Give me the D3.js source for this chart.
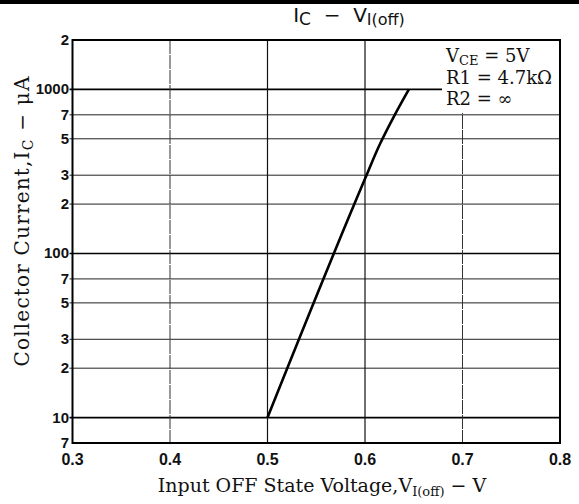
<!DOCTYPE html>
<html><head><meta charset="utf-8">
<script src="https://cdn.jsdelivr.net/npm/d3@7/dist/d3.min.js"></script>
<style>body{margin:0;background:#fff}svg{display:block}</style>
</head><body>
<script>
// Data
const voltage = [0.50, 0.60, 0.615, 0.63, 0.645];
const current = [10, 285, 460, 690, 1000];
const xTicks = [0.3, 0.4, 0.5, 0.6, 0.7, 0.8];
const xTickLabels = ["0.3", "0.4", "0.5", "0.6", "0.7", "0.8"];
const yTicks = [7, 10, 20, 30, 50, 70, 100, 200, 300, 500, 700, 1000, 2000];
const yTickLabels = ["7", "10", "2", "3", "5", "7", "100", "2", "3", "5", "7", "1000", "2"];
const conditions = ["V_CE = 5V", "R1 = 4.7kΩ", "R2 = ∞"];

const W = 579, H = 504;
const svg = d3.select("body").append("svg").attr("width", W).attr("height", H);
const x = d3.scaleLinear().domain([0.3, 0.8]).range([72.5, 560]);
const y = d3.scaleLog().domain([7, 2000]).range([443, 40]);
const serif = "'DejaVu Serif', 'Liberation Serif', serif";
const sans = "'Liberation Sans Narrow', 'Liberation Sans', Arial, sans-serif";

// top page bar
svg.append("rect").attr("x", 0).attr("y", 0).attr("width", W).attr("height", 4).attr("fill", "#000");

// Title
const title = svg.append("text").attr("x", 349).attr("y", 22).attr("text-anchor", "middle")
  .attr("font-family", "'DejaVu Sans', sans-serif").attr("font-size", 20).attr("fill", "#111")
  .attr("xml:space", "preserve");
title.append("tspan").text("I");
title.append("tspan").attr("font-size", 17).attr("dy", 3).text("C");
title.append("tspan").attr("dy", -3).text("  \u2212  V");
title.append("tspan").attr("font-size", 16).attr("dy", 3).text("I(off)");

const g = svg.append("g");
// horizontal grid
const major = new Set([10, 100, 1000]);
g.selectAll("line.hg").data(yTicks.filter(d => d > 7 && d < 2000)).join("line")
  .attr("x1", x(0.3) - 3).attr("x2", x(0.8))
  .attr("y1", d => y(d)).attr("y2", d => y(d))
  .attr("stroke", d => major.has(d) ? "#000" : "#222")
  .attr("stroke-width", d => major.has(d) ? 1.6 : 1);
// vertical grid
g.selectAll("line.vg").data(xTicks.slice(1, -1)).join("line")
  .attr("x1", d => x(d)).attr("x2", d => x(d))
  .attr("y1", y(2000)).attr("y2", y(7))
  .attr("stroke", d => (d === 0.5 || d === 0.6) ? "#111" : "#333")
  .attr("stroke-width", d => (d === 0.5 || d === 0.6) ? 1.2 : 1)
  .attr("stroke-dasharray", d => (d === 0.5 || d === 0.6) ? null : "14,1");

// conditions box background
svg.append("rect").attr("x", 442).attr("y", y(2000) + 1).attr("width", x(0.8) - 443).attr("height", 72).attr("fill", "#fff");

// border
svg.append("rect").attr("x", x(0.3)).attr("y", y(2000)).attr("width", x(0.8) - x(0.3)).attr("height", y(7) - y(2000))
  .attr("fill", "none").attr("stroke", "#000").attr("stroke-width", 2);

// data line
svg.append("path").datum(voltage.map((v, i) => [v, current[i]]))
  .attr("d", d3.line().x(d => x(d[0])).y(d => y(d[1])).curve(d3.curveMonotoneY))
  .attr("fill", "none").attr("stroke", "#000").attr("stroke-width", 2.6);

// y tick labels
svg.selectAll("text.yl").data(yTicks).join("text")
  .attr("x", 69).attr("y", d => y(d) + 5)
  .attr("text-anchor", "end").attr("font-family", sans)
  .attr("font-weight", "bold").attr("font-size", 15).attr("fill", "#111")
  .text((d, i) => yTickLabels[i]);

// x tick labels
svg.selectAll("text.xl").data(xTicks).join("text")
  .attr("x", d => x(d)).attr("y", 465)
  .attr("text-anchor", "middle").attr("font-family", "'Liberation Sans', Arial, sans-serif")
  .attr("font-weight", "bold").attr("font-size", 16).attr("fill", "#111")
  .text((d, i) => xTickLabels[i]);

// conditions text
const cond = svg.append("g").attr("font-family", serif).attr("font-size", 18).attr("fill", "#111");
conditions.forEach((c, i) => {
  const t = cond.append("text").attr("x", 446).attr("y", 62 + i * 21.5);
  if (c.startsWith("V_CE")) {
    t.append("tspan").text("V");
    t.append("tspan").attr("font-size", 13).attr("dy", 3).text("CE");
    t.append("tspan").attr("dy", -3).text(c.slice(4));
  } else {
    t.text(c);
  }
});

// x axis title
const xt = svg.append("text").attr("x", 322).attr("y", 492).attr("text-anchor", "middle")
  .attr("font-family", serif).attr("font-size", 19).attr("fill", "#111");
xt.append("tspan").text("Input OFF State Voltage,V");
xt.append("tspan").attr("font-size", 13).attr("dy", 4).text("I(off)");
xt.append("tspan").attr("dy", -4).text(" \u2212 V");

// y axis title
const yt = svg.append("text").attr("transform", "translate(29,221) rotate(-90)").attr("text-anchor", "middle")
  .attr("font-family", serif).attr("font-size", 20).attr("letter-spacing", 1.2).attr("fill", "#111");
yt.append("tspan").text("Collector Current,I");
yt.append("tspan").attr("font-size", 14).attr("dy", 4).text("C");
yt.append("tspan").attr("dy", -4).text(" \u2212 \u03bcA");
</script>
</body></html>
